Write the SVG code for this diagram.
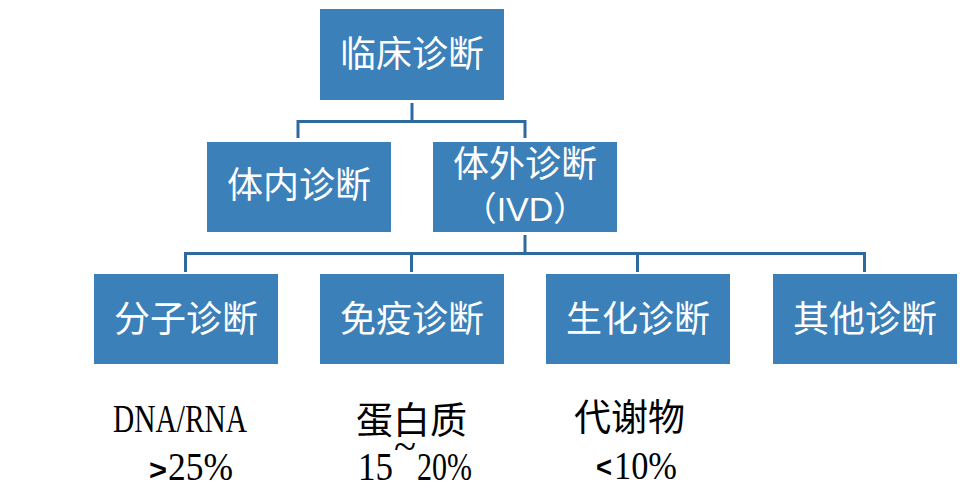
<svg xmlns="http://www.w3.org/2000/svg" width="960" height="498" viewBox="0 0 960 498">
<style>
.box{fill:#3b80b9}
.bt{fill:#ffffff;font-family:"Noto Sans CJK SC","Noto Sans",sans-serif;font-size:36px;text-anchor:middle}
.conn{fill:none;stroke:#2f6a9f;stroke-width:3}
.lab{fill:#000000;font-family:"Liberation Serif","Noto Sans CJK SC",serif;font-size:40px}
.cjk{fill:#000000;font-family:"Noto Sans CJK SC",sans-serif;font-size:37px}
.sym{fill:#000000;font-family:"Liberation Sans",sans-serif;font-weight:bold;font-size:30px}
</style>
<rect width="960" height="498" fill="#ffffff"/>
<g id="connectors">
<path class="conn" d="M412 103 V121.5 M298 138 V121.5 H525 V138"/>
<path class="conn" d="M525 235 V253.5 M185.5 272 V253.5 H864.5 V272 M411.5 253.5 V272 M637.5 253.5 V272"/>
</g>
<g id="clinical">
<rect class="box" x="320" y="9" width="184" height="91"/>
<text class="bt" x="412" y="67">临床诊断</text>
</g>
<g id="invivo">
<rect class="box" x="207" y="142" width="184" height="90"/>
<text class="bt" x="299" y="198">体内诊断</text>
</g>
<g id="invitro">
<rect class="box" x="433" y="142" width="184" height="90"/>
<text class="bt" x="525" y="177">体外诊断</text>
<text class="bt" x="525" y="221" style="font-size:34px"><tspan>（</tspan><tspan style="font-family:'Liberation Sans',sans-serif">IVD</tspan><tspan>）</tspan></text>
</g>
<g id="molecular">
<rect class="box" x="94" y="274" width="184" height="90"/>
<text class="bt" x="186" y="332">分子诊断</text>
</g>
<g id="immuno">
<rect class="box" x="320" y="274" width="184" height="90"/>
<text class="bt" x="412" y="332">免疫诊断</text>
</g>
<g id="biochem">
<rect class="box" x="546" y="274" width="184" height="90"/>
<text class="bt" x="638" y="332">生化诊断</text>
</g>
<g id="other">
<rect class="box" x="773" y="274" width="184" height="90"/>
<text class="bt" x="865" y="332">其他诊断</text>
</g>
<g id="labels">
<text class="lab" x="113" y="432" textLength="134" lengthAdjust="spacingAndGlyphs">DNA/RNA</text>
<text class="sym" x="149" y="480" textLength="18" lengthAdjust="spacingAndGlyphs">&gt;</text>
<text class="lab" x="168" y="480" textLength="65" lengthAdjust="spacingAndGlyphs">25%</text>
<text class="cjk" x="356" y="434">蛋白质</text>
<text class="lab" x="358" y="480" textLength="35" lengthAdjust="spacingAndGlyphs">15</text>
<text class="lab" x="394" y="460" textLength="22" lengthAdjust="spacingAndGlyphs">~</text>
<text class="lab" x="417" y="480" textLength="55" lengthAdjust="spacingAndGlyphs">20%</text>
<text class="cjk" x="574" y="431">代谢物</text>
<text class="sym" x="596" y="477" textLength="16" lengthAdjust="spacingAndGlyphs">&lt;</text>
<text class="lab" x="614" y="479" textLength="63" lengthAdjust="spacingAndGlyphs">10%</text>
</g>
</svg>
